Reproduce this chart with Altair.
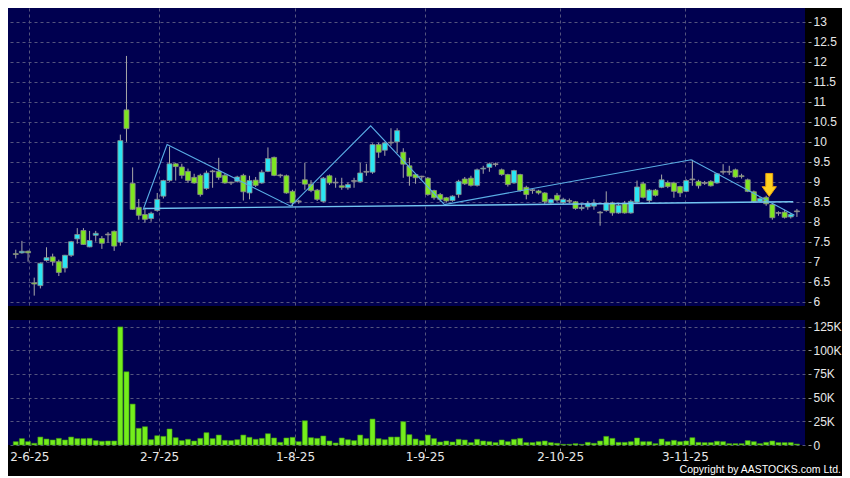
import altair as alt
import pandas as pd

# ---------------- data ----------------
opens = [7.20, 7.22, 7.26, 6.47, 6.40, 7.03, 7.12, 7.00, 6.84, 7.16,
         7.57, 7.78, 7.37, 7.66, 7.58, 7.67, 7.76, 7.49, 10.80, 8.96,
         8.36, 8.18, 8.08, 8.28, 8.64, 9.03, 9.45, 9.37, 9.26, 9.11,
         9.16, 8.83, 9.25, 9.26, 9.16, 8.97, 9.01, 9.16, 8.72, 9.04,
         8.97, 9.26, 9.61, 9.15, 9.15, 8.76, 8.50, 9.05, 8.94, 8.79,
         8.51, 9.15, 8.97, 8.90, 8.85, 9.01, 9.00, 9.24, 9.24, 9.93,
         9.79, 9.97, 10.00, 9.74, 9.40, 9.18, 9.12, 9.09, 8.78, 8.68,
         8.60, 8.53, 8.68, 9.07, 9.09, 8.91, 9.32, 9.36, 9.43, 9.30,
         9.18, 8.97, 9.18, 8.86, 8.78, 8.77, 8.72, 8.47, 8.66, 8.48,
         8.51, 8.50, 8.33, 8.37, 8.39, 8.22, 8.28, 8.47, 8.22, 8.46,
         8.22, 8.49, 8.95, 8.53, 8.79, 8.86, 8.98, 8.97, 8.88, 8.76,
         9.05, 9.01, 8.96, 9.01, 8.97, 9.24, 9.24, 9.30, 9.14, 9.05,
         8.75, 8.51, 8.61, 8.43, 8.21, 8.24, 8.12, 8.25]
highs = [7.30, 7.52, 7.28, 6.60, 6.98, 7.36, 7.20, 7.05, 7.17, 7.52,
         7.84, 7.84, 7.77, 7.77, 7.64, 7.74, 7.78, 10.18, 12.15, 9.36,
         8.57, 8.35, 8.25, 8.72, 9.05, 9.88, 9.47, 9.45, 9.33, 9.20,
         9.20, 9.28, 9.30, 9.60, 9.20, 9.00, 9.15, 9.20, 9.15, 9.12,
         9.30, 9.86, 9.63, 9.20, 9.18, 8.80, 8.55, 9.47, 9.04, 8.82,
         9.12, 9.18, 9.10, 9.10, 8.98, 9.10, 9.47, 9.45, 9.96, 9.98,
         10.00, 10.34, 10.34, 9.84, 9.60, 9.20, 9.15, 9.12, 8.80, 8.72,
         8.62, 8.66, 9.05, 9.12, 9.15, 9.33, 9.40, 9.48, 9.48, 9.33,
         9.20, 9.30, 9.20, 8.90, 8.82, 8.80, 8.74, 8.58, 8.72, 8.60,
         8.58, 8.52, 8.45, 8.52, 8.56, 8.27, 8.76, 8.50, 8.45, 8.52,
         8.55, 9.03, 9.00, 8.82, 8.82, 9.18, 9.03, 9.00, 8.90, 9.06,
         9.55, 9.05, 9.02, 9.04, 9.22, 9.44, 9.40, 9.33, 9.20, 9.08,
         8.78, 8.62, 8.65, 8.45, 8.26, 8.30, 8.22, 8.32]
lows = [7.08, 7.20, 7.00, 6.15, 6.33, 7.00, 6.90, 6.64, 6.73, 7.12,
        7.45, 7.42, 7.36, 7.50, 7.32, 7.48, 7.27, 7.40, 10.00, 8.30,
        8.05, 7.98, 8.00, 8.25, 8.58, 9.00, 9.03, 9.08, 8.97, 8.95,
        8.63, 8.80, 8.85, 9.05, 8.95, 8.92, 8.98, 8.53, 8.56, 8.87,
        8.95, 9.24, 9.14, 9.10, 8.70, 8.39, 8.45, 8.80, 8.74, 8.52,
        8.48, 8.92, 8.85, 8.80, 8.80, 8.85, 8.98, 9.15, 9.20, 9.60,
        9.65, 9.90, 9.72, 9.10, 8.90, 8.95, 9.05, 8.65, 8.55, 8.50,
        8.48, 8.50, 8.60, 8.92, 8.88, 8.88, 9.20, 9.25, 9.38, 9.15,
        8.88, 8.95, 8.75, 8.56, 8.70, 8.68, 8.45, 8.45, 8.50, 8.44,
        8.46, 8.30, 8.28, 8.30, 8.30, 7.90, 8.25, 8.15, 8.20, 8.20,
        8.20, 8.45, 8.58, 8.45, 8.63, 8.84, 8.84, 8.60, 8.62, 8.74,
        8.90, 8.83, 8.92, 8.88, 8.95, 9.18, 9.17, 9.10, 9.08, 8.74,
        8.47, 8.48, 8.40, 8.05, 8.15, 8.08, 8.08, 8.12]
closes = [7.18, 7.26, 7.22, 6.44, 6.96, 7.10, 7.00, 6.73, 7.16, 7.50,
          7.68, 7.43, 7.53, 7.71, 7.46, 7.67, 7.39, 10.03, 10.33, 8.31,
          8.16, 8.06, 8.21, 8.56, 9.03, 9.45, 9.38, 9.16, 9.03, 8.97,
          8.68, 9.22, 9.25, 9.11, 8.97, 8.97, 9.12, 8.75, 9.03, 8.91,
          9.24, 9.58, 9.16, 9.15, 8.72, 8.47, 8.50, 8.94, 8.78, 8.56,
          9.09, 8.97, 8.97, 8.86, 8.93, 9.01, 9.22, 9.24, 9.93, 9.74,
          9.97, 9.97, 10.28, 9.44, 9.14, 9.10, 9.12, 8.68, 8.60, 8.56,
          8.52, 8.64, 9.01, 8.95, 8.91, 9.30, 9.33, 9.45, 9.43, 9.18,
          8.93, 9.28, 8.78, 8.68, 8.78, 8.72, 8.50, 8.56, 8.54, 8.56,
          8.51, 8.33, 8.36, 8.45, 8.47, 8.22, 8.47, 8.22, 8.41, 8.22,
          8.51, 8.87, 8.61, 8.79, 8.66, 9.05, 8.88, 8.76, 8.72, 9.03,
          9.05, 8.90, 8.96, 8.90, 9.20, 9.24, 9.24, 9.12, 9.13, 8.76,
          8.50, 8.58, 8.45, 8.10, 8.21, 8.11, 8.18, 8.25]
volumes_k = [3.5, 6.7, 3.5, 1.8, 8.4, 6.3, 5.3, 7.0, 5.3, 8.4,
             6.7, 6.7, 7.0, 4.6, 3.9, 4.2, 4.2, 124.7, 77.3, 43.2,
             17.6, 19.3, 5.6, 9.8, 9.1, 16.9, 7.7, 4.6, 6.0, 4.2,
             7.0, 13.0, 6.7, 10.5, 4.9, 4.6, 5.6, 10.5, 8.1, 6.0,
             7.0, 11.9, 7.4, 2.8, 7.4, 8.1, 3.5, 25.6, 7.7, 7.0,
             9.5, 4.2, 2.1, 7.4, 5.6, 4.6, 10.5, 6.7, 27.4, 6.7,
             5.6, 8.4, 8.4, 24.6, 10.9, 6.3, 4.5, 10.5, 6.7, 3.2,
             4.2, 3.2, 6.0, 5.3, 2.5, 6.0, 4.2, 3.5, 2.5, 5.3,
             3.5, 6.0, 7.0, 2.5, 2.5, 3.5, 4.2, 2.5, 1.8, 0.7,
             0.7, 1.4, 0.7, 2.8, 1.8, 4.2, 9.1, 7.0, 2.8, 2.8,
             3.5, 7.4, 3.5, 3.5, 1.4, 6.3, 3.5, 4.9, 3.5, 4.2,
             7.7, 2.8, 2.5, 2.5, 3.9, 3.5, 1.4, 1.4, 1.4, 4.6,
             3.5, 1.4, 2.8, 4.2, 2.5, 2.5, 2.5, 1.0]

month_ticks = [2.2, 23.3, 45.4, 66.5, 88.5, 108.8]
month_labels = ["2-6-25", "2-7-25", "1-8-25", "1-9-25", "2-10-25", "3-11-25"]
price_ticks = [6, 6.5, 7, 7.5, 8, 8.5, 9, 9.5, 10, 10.5, 11, 11.5, 12, 12.5, 13]
volume_ticks = [0, 25000, 50000, 75000, 100000, 125000]

zigzag_idx = [20.7, 24.6, 44.7, 57.7, 69.7, 109.8, 126.6]
zigzag_price = [8.30, 9.93, 8.39, 10.40, 8.43, 9.55, 8.16]
neck_idx = [20.9, 126.4]
neck_price = [8.33, 8.50]
arrow_idx = [122.5]
arrow_price = [8.92]

# ---------------- styling ----------------
NAVY = "#000050"
CYAN = "#2ae6f4"
GREEN = "#7ee620"
GREY = "#a8a8a8"
OUTLINE = "#8c8c8c"
TREND = "#5aaee6"
FONT = "DejaVu Sans"

n = len(opens)
df = pd.DataFrame({"i": list(range(n)), "o": opens, "h": highs, "l": lows,
                   "c": closes, "v": [v * 1000 for v in volumes_k]})
df["lo"] = df[["o", "c"]].min(axis=1)
df["hi"] = df[["o", "c"]].max(axis=1)
small = (df["hi"] - df["lo"]) < 0.02
df.loc[small, "hi"] = df.loc[small, "lo"] + 0.02
df["col"] = [GREY if abs(c - o) < 0.005 else (CYAN if c > o else GREEN)
             for o, c in zip(opens, closes)]

zig = pd.DataFrame({"i": zigzag_idx, "p": zigzag_price, "k": range(len(zigzag_idx))})
neck = pd.DataFrame({"i": neck_idx, "p": neck_price, "k": range(len(neck_idx))})
arrow = pd.DataFrame({"i": arrow_idx, "p": arrow_price})

label_expr = "''"
for t, lab in reversed(list(zip(month_ticks, month_labels))):
    label_expr = f"abs(datum.value - {t}) < 1 ? '{lab}' : ({label_expr})"

xs = alt.Scale(domain=[-0.45, 127.5], nice=False, zero=False)
ys = alt.Scale(domain=[5.89, 13.35], nice=False, zero=False)
vs = alt.Scale(domain=[0, 132000], nice=False, zero=False)

W = 797

x_axis_top = alt.Axis(values=month_ticks, labels=False, ticks=False,
                      domain=False, grid=True, title=None)
y_axis_price = alt.Axis(orient="right", values=price_ticks,
                        labelExpr="format(datum.value, '~g')",
                        grid=True, domain=False, tickSize=3, offset=3,
                        labelPadding=2, labelOverlap=False, title=None)


def xp():
    return alt.X("i:Q", scale=xs, axis=x_axis_top)


def yp(field):
    return alt.Y(field, scale=ys, axis=y_axis_price)


wick = alt.Chart(df).mark_rule(color=GREY, strokeWidth=1).encode(
    x=xp(), y=yp("l:Q"), y2="h:Q")
body = alt.Chart(df).mark_bar(size=5, stroke=OUTLINE, strokeWidth=0.8).encode(
    x=xp(), y=yp("lo:Q"), y2="hi:Q", fill=alt.Fill("col:N", scale=None))
neck_line = alt.Chart(neck).mark_line(color="#72c4f2", strokeWidth=1.4).encode(
    x=xp(), y=yp("p:Q"), order="k:Q")
zig_line = alt.Chart(zig).mark_line(color=TREND, strokeWidth=1.1).encode(
    x=xp(), y=yp("p:Q"), order="k:Q")
arrow_mark = alt.Chart(arrow).mark_point(
    shape="M-0.3,-1L0.3,-1L0.3,0.15L0.62,0.15L0,1L-0.62,0.15L-0.3,0.15Z",
    filled=True, size=529, fill="#ffd21e", stroke="#e8a010", strokeWidth=1,
    opacity=1).encode(x=xp(), y=yp("p:Q"))

price = alt.layer(wick, body, neck_line, zig_line, arrow_mark).properties(
    width=W, height=298)

vol = alt.Chart(df).mark_bar(size=5, color="#74ee1c", stroke="#3f9a10",
                             strokeWidth=0.6).encode(
    x=alt.X("i:Q", scale=xs, title=None,
            axis=alt.Axis(values=month_ticks, labelExpr=label_expr, grid=True,
                          domain=False, tickSize=3, offset=3, labelPadding=0,
                          labelFontSize=12, labelFont=FONT, labelOverlap=False)),
    y=alt.Y("v:Q", scale=vs, title=None,
            axis=alt.Axis(orient="right", values=volume_ticks,
                          labelExpr="datum.value == 0 ? '0' : (datum.value / 1000) + 'K'",
                          grid=True, domain=False, tickSize=3, offset=3,
                          labelPadding=2, labelOverlap=False)),
).properties(width=W, height=125)

chart = alt.vconcat(price, vol, spacing=12).properties(
    padding=0,
    title=alt.TitleParams("Copyright by AASTOCKS.com Ltd.", orient="bottom",
                          anchor="end", fontSize=10.5, font="Liberation Sans",
                          fontWeight="normal", color="#ffffff", offset=3),
).configure(background="#000000", font=FONT).configure_view(
    fill=NAVY, strokeWidth=0
).configure_axis(
    labelColor="#e8e8e8", labelFont="Liberation Sans", labelFontSize=12,
    tickColor="#9a9a9a", gridColor="#54547e", gridDash=[3, 3], gridWidth=1
)

chart.save("out.html", embed_options={"renderer": "svg", "actions": False})
